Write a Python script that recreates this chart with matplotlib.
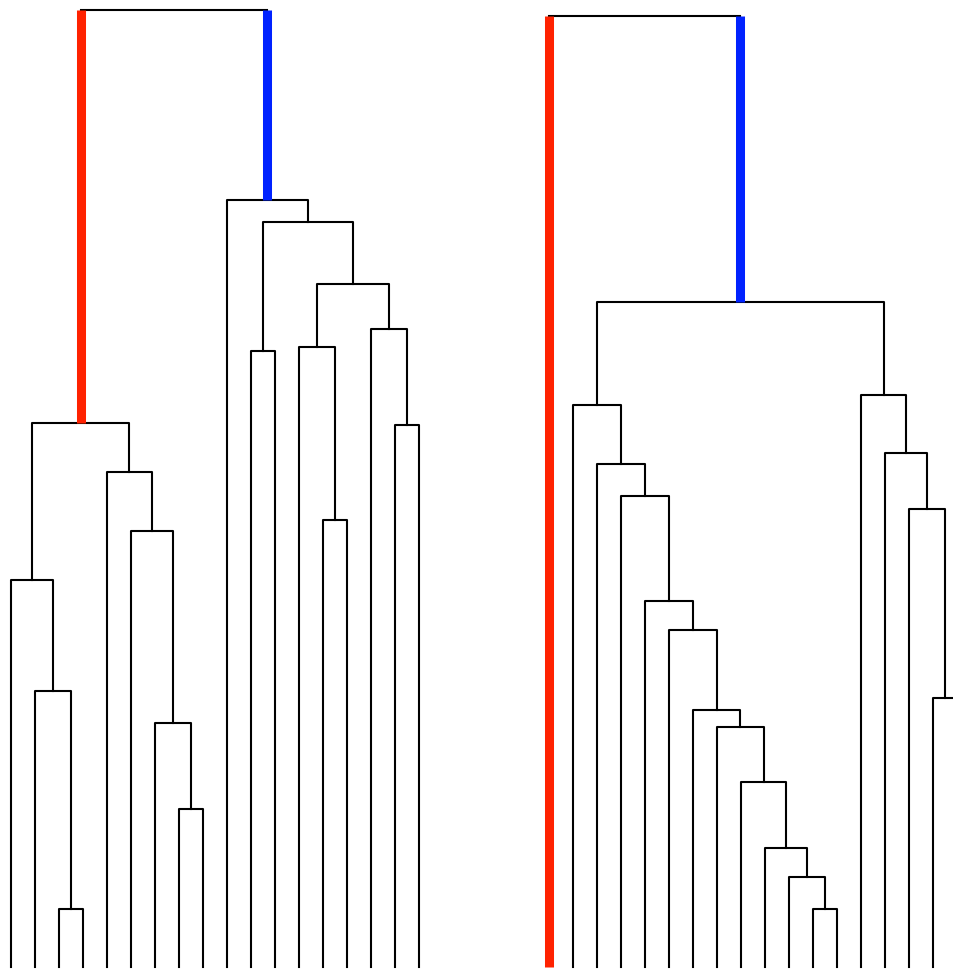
import numpy as np
import matplotlib.pyplot as plt

# Two hierarchical clusterings, 18 leaves each.
# Each merge: (child a, child b, height); new clusters get ids 18, 19, ...
n_leaves = 18

left_merges = [
    (2, 3, 0.58),
    (1, 18, 2.76),
    (0, 19, 3.87),
    (7, 8, 1.58),
    (6, 21, 2.44),
    (5, 22, 4.36),
    (4, 23, 4.95),
    (20, 24, 5.44),
    (10, 11, 6.16),
    (13, 14, 4.47),
    (12, 27, 6.20),
    (16, 17, 5.42),
    (15, 29, 6.38),
    (28, 30, 6.83),
    (26, 31, 7.45),
    (9, 32, 7.67),
    (25, 33, 9.57),
]

right_merges = [
    (11, 12, 0.58),
    (10, 18, 0.90),
    (9, 19, 1.19),
    (8, 20, 1.85),
    (7, 21, 2.40),
    (6, 22, 2.57),
    (5, 23, 3.37),
    (4, 24, 3.66),
    (3, 25, 4.71),
    (2, 26, 5.03),
    (1, 27, 5.62),
    (16, 17, 2.69),
    (15, 29, 4.58),
    (14, 30, 5.14),
    (13, 31, 5.72),
    (28, 32, 6.65),
    (0, 33, 9.51),
]

RED = "#ff2200"
BLUE = "#0022ff"


def draw_tree(ax, merges, n):
    xs = list(np.arange(n, dtype=float))
    hs = [0.0] * n
    for k, (a, b, h) in enumerate(merges):
        root = k == len(merges) - 1
        if root:
            ax.plot([xs[a], xs[b]], [h, h], color="black", lw=1.5)
            ax.plot([xs[a], xs[a]], [hs[a], h], color=RED, lw=6.5, solid_capstyle="butt")
            ax.plot([xs[b], xs[b]], [hs[b], h], color=BLUE, lw=6.5, solid_capstyle="butt")
        else:
            ax.plot([xs[a], xs[a], xs[b], xs[b]], [hs[a], h, h, hs[b]],
                    color="black", lw=1.5)
        xs.append((xs[a] + xs[b]) / 2)
        hs.append(h)


fig = plt.figure(figsize=(9.54, 9.70), dpi=100)

ax1 = fig.add_axes([0, 0, 0.5, 1])
draw_tree(ax1, left_merges, n_leaves)
ax1.set_xlim(-0.458, 19.417)
ax1.set_ylim(-0.025, 9.675)
ax1.axis("off")

ax2 = fig.add_axes([0.5, 0, 0.5, 1])
draw_tree(ax2, right_merges, n_leaves)
ax2.set_xlim(-3.0, 16.875)
ax2.set_ylim(-0.025, 9.675)
ax2.axis("off")

plt.savefig("out.png", dpi=100)
